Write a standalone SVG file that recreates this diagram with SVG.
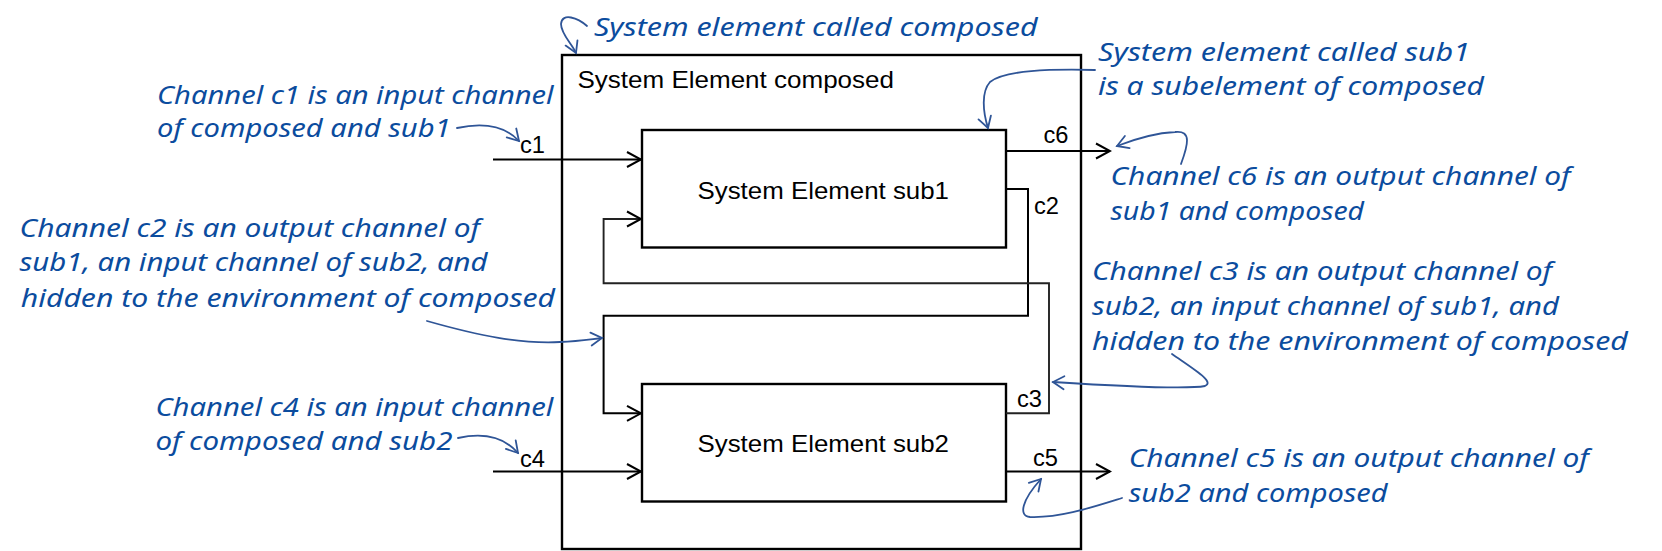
<svg xmlns="http://www.w3.org/2000/svg" width="1662" height="551" viewBox="0 0 1662 551">
<style>
.bg{fill:#ffffff}
.box{fill:none;stroke:#000;stroke-width:2.4}
.wire{fill:none;stroke:#000;stroke-width:2}
.wire2{fill:none;stroke:#222;stroke-width:1.9}
.lbl{font-family:"Liberation Sans",Arial,sans-serif;font-size:24.5px;fill:#000}
.ch{font-family:"Liberation Sans",Arial,sans-serif;font-size:23px;fill:#000}
.note{font-family:"Noto Sans","DejaVu Sans",sans-serif;font-style:italic;font-size:25px;fill:#0B4C9E}
.ann{fill:none;stroke:#2F5597;stroke-width:1.8;stroke-linecap:round}
</style>
<defs>
<marker id="arr" viewBox="-16 -10 18 20" markerWidth="18" markerHeight="20" refX="0" refY="0" orient="auto" markerUnits="userSpaceOnUse">
<path d="M-14,-7.5 L0,0 L-14,7.5" fill="none" stroke="#000" stroke-width="2"/>
</marker>
<marker id="barr" viewBox="-14 -9 16 18" markerWidth="16" markerHeight="18" refX="0" refY="0" orient="auto" markerUnits="userSpaceOnUse">
<path d="M-11,-6.5 L0,0 L-11,6.5" fill="none" stroke="#2F5597" stroke-width="1.8" stroke-linecap="round"/>
</marker>
</defs>
<rect class="bg" x="0" y="0" width="1662" height="551"/>

<g id="composed">
<rect class="box" x="562" y="55" width="519" height="494"/>
<text class="lbl" x="577.5" y="88" textLength="316.5" lengthAdjust="spacingAndGlyphs">System Element composed</text>
</g>

<g id="sub1">
<rect class="box" x="642" y="130" width="364" height="117.5"/>
<text class="lbl" x="697.5" y="199" textLength="251.5" lengthAdjust="spacingAndGlyphs">System Element sub1</text>
</g>

<g id="sub2">
<rect class="box" x="642" y="384" width="364" height="117.5"/>
<text class="lbl" x="697.5" y="452.3" textLength="251.5" lengthAdjust="spacingAndGlyphs">System Element sub2</text>
</g>

<g id="connectors">
<path id="c1" class="wire" d="M493,159.5 H641" marker-end="url(#arr)"/>
<path id="c4" class="wire" d="M493,471.5 H641" marker-end="url(#arr)"/>
<path id="c6" class="wire" d="M1006,151 H1110" marker-end="url(#arr)"/>
<path id="c5" class="wire" d="M1006,471.5 H1110" marker-end="url(#arr)"/>
<path id="c2" class="wire" d="M1006,189 H1028 V315.7 H603.6 V413.3 H641" marker-end="url(#arr)"/>
<path id="c3" class="wire2" d="M1006,413.3 H1049 V283.3 H603.6 V219 H641" marker-end="url(#arr)"/>
<text class="ch" x="520" y="153" textLength="25" lengthAdjust="spacingAndGlyphs">c1</text>
<text class="ch" x="520" y="467" textLength="25" lengthAdjust="spacingAndGlyphs">c4</text>
<text class="ch" x="1043.5" y="143" textLength="25" lengthAdjust="spacingAndGlyphs">c6</text>
<text class="ch" x="1034" y="214" textLength="25" lengthAdjust="spacingAndGlyphs">c2</text>
<text class="ch" x="1017" y="407" textLength="25" lengthAdjust="spacingAndGlyphs">c3</text>
<text class="ch" x="1033" y="466" textLength="25" lengthAdjust="spacingAndGlyphs">c5</text>
</g>

<g id="annotations">
<g id="note-composed">
<text class="note" x="594" y="36" textLength="443.5" lengthAdjust="spacingAndGlyphs">System element called composed</text>
<path class="ann" d="M587,26 C578,18 562,12 561,24 C561,34 572,44 576,53" marker-end="url(#barr)"/>
</g>
<g id="note-c1">
<text class="note" x="157" y="104" textLength="396.6" lengthAdjust="spacingAndGlyphs">Channel c1 is an input channel</text>
<text class="note" x="157" y="137.3" textLength="293.7" lengthAdjust="spacingAndGlyphs">of composed and sub1</text>
<path class="ann" d="M457,128 C485,122 505,126 519,141" marker-end="url(#barr)"/>
</g>
<g id="note-sub1">
<text class="note" x="1098" y="60.7" textLength="372" lengthAdjust="spacingAndGlyphs">System element called sub1</text>
<text class="note" x="1098" y="95" textLength="386" lengthAdjust="spacingAndGlyphs">is a subelement of composed</text>
<path class="ann" d="M1095,70 C1050,69 1005,70 990,82 C981,92 983,112 988,128" marker-end="url(#barr)"/>
</g>
<g id="note-c6">
<text class="note" x="1110.6" y="185" textLength="460" lengthAdjust="spacingAndGlyphs">Channel c6 is an output channel of</text>
<text class="note" x="1110.6" y="220" textLength="253.4" lengthAdjust="spacingAndGlyphs">sub1 and composed</text>
<path class="ann" d="M1181,164 C1188,145 1192,130 1175,132 C1155,133 1135,139 1117,146" marker-end="url(#barr)"/>
</g>
<g id="note-c2">
<text class="note" x="19.6" y="237.3" textLength="460.4" lengthAdjust="spacingAndGlyphs">Channel c2 is an output channel of</text>
<text class="note" x="19.6" y="271" textLength="468" lengthAdjust="spacingAndGlyphs">sub1, an input channel of sub2, and</text>
<text class="note" x="20.7" y="307.3" textLength="534.3" lengthAdjust="spacingAndGlyphs">hidden to the environment of composed</text>
<path class="ann" d="M427,321 C480,336 520,344 560,342 C580,341 592,339 602,338" marker-end="url(#barr)"/>
</g>
<g id="note-c3">
<text class="note" x="1092" y="280" textLength="460" lengthAdjust="spacingAndGlyphs">Channel c3 is an output channel of</text>
<text class="note" x="1092" y="315" textLength="467" lengthAdjust="spacingAndGlyphs">sub2, an input channel of sub1, and</text>
<text class="note" x="1092" y="350" textLength="535.8" lengthAdjust="spacingAndGlyphs">hidden to the environment of composed</text>
<path class="ann" d="M1172,354 C1195,370 1215,382 1205,386 C1185,390 1100,385 1053,382" marker-end="url(#barr)"/>
</g>
<g id="note-c4">
<text class="note" x="155.4" y="415.7" textLength="398" lengthAdjust="spacingAndGlyphs">Channel c4 is an input channel</text>
<text class="note" x="155.4" y="450" textLength="297" lengthAdjust="spacingAndGlyphs">of composed and sub2</text>
<path class="ann" d="M458,438 C485,432 505,438 518,453" marker-end="url(#barr)"/>
</g>
<g id="note-c5">
<text class="note" x="1128.8" y="466.7" textLength="460" lengthAdjust="spacingAndGlyphs">Channel c5 is an output channel of</text>
<text class="note" x="1128.8" y="501.7" textLength="258.8" lengthAdjust="spacingAndGlyphs">sub2 and composed</text>
<path class="ann" d="M1122,498 C1090,508 1060,518 1030,517 C1018,516 1022,500 1041,479" marker-end="url(#barr)"/>
</g>
</g>
</svg>
